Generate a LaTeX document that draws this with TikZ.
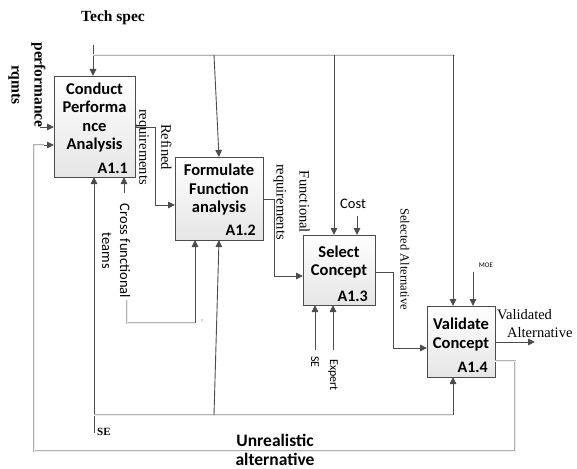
\documentclass[tikz,border=0pt]{standalone}
\usepackage{fontspec}
\setmainfont{Liberation Serif}
\newfontfamily\sanf{Carlito}
\usetikzlibrary{arrows.meta,shadows}
\begin{document}
\begin{tikzpicture}[x=1pt,y=-1pt,
  box/.style={draw=gray!60!black, line width=0.8pt, top color=white, bottom color=gray!20,
    inner sep=0pt, outer sep=0pt,
    drop shadow={shadow xshift=1.2pt, shadow yshift=-1.2pt, fill=gray!45}},
  btitle/.style={font=\sanf\bfseries\fontsize{16.5}{18.5}\selectfont, align=center, inner sep=0pt},
  blabel/.style={font=\sanf\bfseries\fontsize{16}{17}\selectfont, anchor=south east, inner sep=0pt},
  conn/.style={draw=black!70, line width=0.9pt},
  arr/.style={conn, -{Triangle[length=7pt,width=6.5pt]}},
  fb/.style={draw=gray!60, line width=0.8pt, double=gray!15, double distance=1pt},
  serlab/.style={font=\fontsize{14.5}{22}\selectfont, align=center, inner sep=0pt},
  sanlab/.style={font=\sanf\fontsize{14}{18}\selectfont, align=center, inner sep=0pt}
]
\useasboundingbox (0,0) rectangle (577,468);

% boxes
\node[box, minimum width=81pt, minimum height=101pt] (b1) at (94.5,126.5) {};
\node[box, minimum width=88pt, minimum height=83pt] (b2) at (219,198.5) {};
\node[box, minimum width=72pt, minimum height=70pt] (b3) at (339,270) {};
\node[box, minimum width=68pt, minimum height=71pt] (b4) at (461,341.5) {};

\node[btitle] (t1) at (94.5,117.5) {Conduct\\Performa\\nce\\Analysis};
\node[btitle] (t2) at (219,190) {Formulate\\Function\\analysis};
\node[btitle] (t3) at (339,262) {Select\\Concept};
\node[btitle] (t4) at (461,334.5) {Validate\\Concept};
\node[blabel] (l1) at (128,174) {A1.1};
\node[blabel] (l2) at (256,236) {A1.2};
\node[blabel] (l3) at (368,302) {A1.3};
\node[blabel] (l4) at (488,373) {A1.4};

% Tech spec
\node[font=\bfseries\fontsize{15.5}{17}\selectfont, inner sep=0pt] (tech) at (113,18) {Tech spec};
\coordinate (ts) at (93,45);
\draw[arr] (ts) -- (ts |- b1.north);
\coordinate (tl) at (93,55);
\coordinate (tr) at (455,55);
\draw[fb] (tl) -- (tr);
\coordinate (tA) at (214,55);
\coordinate (tB) at (334,55);
\coordinate (tC) at (453,55);
\draw[arr] (tA) -- (b2.north);
\draw[arr] (tB) -- (tB |- b3.north);
\draw[arr] (tC) -- (tC |- b4.north);

% performance rqmts
\node[font=\bfseries\fontsize{15.5}{23}\selectfont, rotate=-90, align=center, inner sep=0pt] (perf) at (27,85) {performance\\rqmts};
\coordinate (pa) at (40,127);
\draw[arr] (pa) -- (pa -| b1.west);

% Refined requirements
\coordinate (r1) at (155,127);
\coordinate (r2) at (155,205);
\draw[arr] (r1 -| b1.east) -- (r1) -- (r2) -- (r2 -| b2.west);
\node[serlab, rotate=-90] (rref) at (154,147) {Refined\\requirements};

% Functional requirements
\coordinate (f1) at (274,199);
\coordinate (f2) at (274,276);
\draw[arr] (f1 -| b2.east) -- (f1) -- (f2) -- (f2 -| b3.west);
\node[serlab, font=\fontsize{14.5}{23}\selectfont, rotate=-90] (ffun) at (291.5,202) {Functional\\requirements};

% Cost
\node[sanlab, font=\sanf\fontsize{14.5}{16}\selectfont] (cost) at (353,204) {Cost};
\coordinate (cs) at (357,216);
\draw[arr] (cs) -- (cs |- b3.north);

% Selected Alternative
\coordinate (s1) at (393,272);
\coordinate (s2) at (393,348);
\draw[arr] (s1 -| b3.east) -- (s1) -- (s2) -- (s2 -| b4.west);
\node[serlab, font=\fontsize{12.5}{14}\selectfont, rotate=-90] (sel) at (405,259) {Selected Alternative};

% MOE
\node[font=\sanf\fontsize{7}{8}\selectfont, inner sep=0pt] (moe) at (486,265) {MOE};
\coordinate (mo) at (473,272);
\draw[arr] (mo) -- (mo |- b4.north);

% Validated Alternative
\coordinate (vo) at (535,342);
\draw[arr] (vo -| b4.east) -- (vo);
\node[font=\fontsize{14.5}{18}\selectfont, align=left, anchor=west, inner sep=0pt] (val) at (497,324) {Validated\\\hspace*{10pt}Alternative};

% SE, Expert into A1.3
\coordinate (se3) at (315,350);
\coordinate (ex3) at (333,350);
\draw[arr] (se3) -- (se3 |- b3.south);
\draw[arr] (ex3) -- (ex3 |- b3.south);
\node[sanlab, font=\sanf\fontsize{12}{14}\selectfont, rotate=-90, anchor=west] (sel3) at (315,356) {SE};
\node[sanlab, font=\sanf\fontsize{12}{14}\selectfont, rotate=-90, anchor=west] (exl3) at (333,359) {Expert};

% Cross functional teams
\coordinate (cf) at (124,193);
\draw[arr] (cf) -- (cf |- b1.south);
\node[sanlab, font=\sanf\fontsize{14.5}{18}\selectfont, rotate=-90] (cft) at (116,251) {Cross functional\\teams};
\coordinate (c1) at (127,300);
\coordinate (c2) at (127,323);
\coordinate (c3) at (195,323);
\draw[fb] (c1) -- (c2) -- (c3);
\draw[arr] (c3) -- (c3 |- b2.south);
\node[font=\fontsize{6}{6}\selectfont, rotate=90, inner sep=0pt, text=gray] (mark) at (203,321) {=};

% SE bottom
\coordinate (se) at (94,433);
\draw[arr] (se) -- (se |- b1.south);
\node[font=\bfseries\fontsize{11}{12}\selectfont, anchor=west, inner sep=0pt] (sebl) at (97,432) {SE};
\coordinate (bl) at (94,415);
\coordinate (bm) at (214,415);
\coordinate (br) at (453,415);
\draw[fb] (bl) -- (br);
\draw[arr] (bm) -- (b2.south);
\draw[arr] (br) -- (br |- b4.south);

% Unrealistic alternative loop
\coordinate (o1) at (515,361);
\coordinate (o2) at (515,451);
\coordinate (o3) at (34,451);
\coordinate (o4) at (34,145);
\coordinate (o5) at (44,145);
\draw[fb] (o1 -| b4.east) -- (o1) -- (o2) -- (o3) -- (o4) -- (o5);
\draw[arr] (o5) -- (o5 -| b1.west);
\node[font=\sanf\bfseries\fontsize{17.5}{19}\selectfont, align=center, inner sep=0pt] (unr) at (275,449.5) {Unrealistic\\alternative};
\end{tikzpicture}
\end{document}
